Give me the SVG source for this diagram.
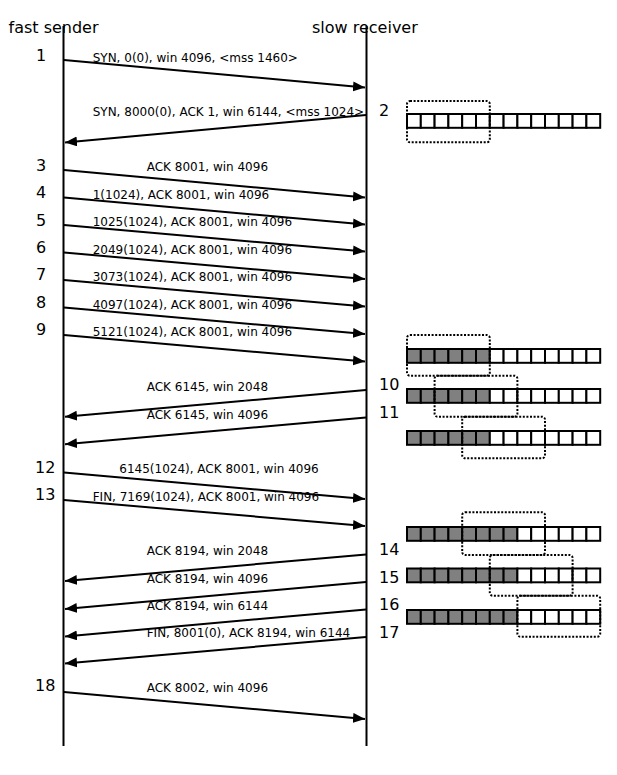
<svg xmlns="http://www.w3.org/2000/svg" width="617" height="775" viewBox="0 0 617 775">
<defs>
<style>
text{font-family:"DejaVu Sans","Liberation Sans",sans-serif;fill:#000}
.hdr{font-size:16px}
.num{font-size:16px}
.lbl{font-size:12px}
.life{stroke:#000;stroke-width:2;fill:none}
.msg{stroke:#000;stroke-width:2;fill:none;marker-end:url(#ah)}
.cell{stroke:#000;stroke-width:2;fill:#fff}
.full{stroke:#000;stroke-width:2;fill:#808080}
.win{stroke:#000;stroke-width:2;fill:none;stroke-dasharray:2 1.6}
</style>
<marker id="ah" markerUnits="userSpaceOnUse" markerWidth="13" markerHeight="11" refX="12" refY="5" orient="auto">
<path d="M0,0 L12,5 L0,10 z" fill="#000"/>
</marker>
<g id="c6">
<rect class="full" x="0" y="0" width="13.8" height="13.8"/>
<rect class="full" x="13.8" y="0" width="13.8" height="13.8"/>
<rect class="full" x="27.6" y="0" width="13.8" height="13.8"/>
<rect class="full" x="41.4" y="0" width="13.8" height="13.8"/>
<rect class="full" x="55.2" y="0" width="13.8" height="13.8"/>
<rect class="full" x="69" y="0" width="13.8" height="13.8"/>
</g>
<g id="e6">
<rect class="cell" x="0" y="0" width="13.8" height="13.8"/>
<rect class="cell" x="13.8" y="0" width="13.8" height="13.8"/>
<rect class="cell" x="27.6" y="0" width="13.8" height="13.8"/>
<rect class="cell" x="41.4" y="0" width="13.8" height="13.8"/>
<rect class="cell" x="55.2" y="0" width="13.8" height="13.8"/>
<rect class="cell" x="69" y="0" width="13.8" height="13.8"/>
</g>
<g id="e2">
<rect class="cell" x="0" y="0" width="13.8" height="13.8"/>
<rect class="cell" x="13.8" y="0" width="13.8" height="13.8"/>
</g>
<g id="c2">
<rect class="full" x="0" y="0" width="13.8" height="13.8"/>
<rect class="full" x="13.8" y="0" width="13.8" height="13.8"/>
</g>
</defs>
<rect width="617" height="775" fill="#fff"/>

<g id="sender">
<text class="hdr" x="8.5" y="33">fast sender</text>
<line class="life" x1="63.5" y1="26" x2="63.5" y2="746"/>
</g>
<g id="receiver">
<text class="hdr" x="312" y="33">slow receiver</text>
<line class="life" x1="366.5" y1="26" x2="366.5" y2="746"/>
</g>

<g id="step-numbers">
<text class="num" x="36" y="61">1</text>
<text class="num" x="379" y="116">2</text>
<text class="num" x="36" y="171">3</text>
<text class="num" x="36" y="198">4</text>
<text class="num" x="36" y="225.5">5</text>
<text class="num" x="36" y="253">6</text>
<text class="num" x="36" y="280">7</text>
<text class="num" x="36" y="307.5">8</text>
<text class="num" x="36" y="335">9</text>
<text class="num" x="379" y="389.5">10</text>
<text class="num" x="379" y="417.5">11</text>
<text class="num" x="35" y="472.5">12</text>
<text class="num" x="35" y="500">13</text>
<text class="num" x="379" y="555">14</text>
<text class="num" x="379" y="582.5">15</text>
<text class="num" x="379" y="610">16</text>
<text class="num" x="379" y="637.5">17</text>
<text class="num" x="35" y="691">18</text>
</g>

<g id="connectors">
<line class="msg" x1="64" y1="60" x2="365" y2="87.5"/>
<line class="msg" x1="366" y1="115" x2="65" y2="142.5"/>
<line class="msg" x1="64" y1="170" x2="365" y2="197.5"/>
<line class="msg" x1="64" y1="197.5" x2="365" y2="224.5"/>
<line class="msg" x1="64" y1="225" x2="365" y2="251.5"/>
<line class="msg" x1="64" y1="252.5" x2="365" y2="279"/>
<line class="msg" x1="64" y1="280" x2="365" y2="306.5"/>
<line class="msg" x1="64" y1="307.5" x2="365" y2="334"/>
<line class="msg" x1="64" y1="335" x2="365" y2="361.5"/>
<line class="msg" x1="366" y1="390" x2="65" y2="416.7"/>
<line class="msg" x1="366" y1="417.5" x2="65" y2="444.3"/>
<line class="msg" x1="64" y1="472.5" x2="365" y2="499"/>
<line class="msg" x1="64" y1="500" x2="365" y2="526"/>
<line class="msg" x1="366" y1="554.5" x2="65" y2="581"/>
<line class="msg" x1="366" y1="582" x2="65" y2="609"/>
<line class="msg" x1="366" y1="609.5" x2="65" y2="636.5"/>
<line class="msg" x1="366" y1="637" x2="65" y2="663.5"/>
<line class="msg" x1="64" y1="692" x2="365" y2="719"/>
</g>

<g id="labels">
<text class="lbl" x="92.7" y="61.5">SYN, 0(0), win 4096, &lt;mss 1460&gt;</text>
<text class="lbl" x="92.7" y="116">SYN, 8000(0), ACK 1, win 6144, &lt;mss 1024&gt;</text>
<text class="lbl" x="146.7" y="171">ACK 8001, win 4096</text>
<text class="lbl" x="92.7" y="198.5">1(1024), ACK 8001, win 4096</text>
<text class="lbl" x="92.7" y="226">1025(1024), ACK 8001, win 4096</text>
<text class="lbl" x="92.7" y="253.5">2049(1024), ACK 8001, win 4096</text>
<text class="lbl" x="92.7" y="281">3073(1024), ACK 8001, win 4096</text>
<text class="lbl" x="92.7" y="308.5">4097(1024), ACK 8001, win 4096</text>
<text class="lbl" x="92.7" y="336">5121(1024), ACK 8001, win 4096</text>
<text class="lbl" x="146.7" y="391">ACK 6145, win 2048</text>
<text class="lbl" x="146.7" y="418.5">ACK 6145, win 4096</text>
<text class="lbl" x="119.3" y="472.5">6145(1024), ACK 8001, win 4096</text>
<text class="lbl" x="92.7" y="500.5">FIN, 7169(1024), ACK 8001, win 4096</text>
<text class="lbl" x="146.7" y="555">ACK 8194, win 2048</text>
<text class="lbl" x="146.7" y="582.5">ACK 8194, win 4096</text>
<text class="lbl" x="146.7" y="610">ACK 8194, win 6144</text>
<text class="lbl" x="146.7" y="637">FIN, 8001(0), ACK 8194, win 6144</text>
<text class="lbl" x="146.7" y="692">ACK 8002, win 4096</text>
</g>

<g id="window-2">
<use href="#e6" x="407" y="114"/>
<use href="#e6" x="489.8" y="114"/>
<use href="#e2" x="572.6" y="114"/>
<rect class="win" x="407" y="101" width="82.8" height="41.3" rx="3"/>
</g>
<g id="window-9">
<use href="#c6" x="407" y="349"/>
<use href="#e6" x="489.8" y="349"/>
<use href="#e2" x="572.6" y="349"/>
<rect class="win" x="407" y="335" width="82.8" height="40.7" rx="3"/>
</g>
<g id="window-10">
<use href="#c6" x="407" y="389"/>
<use href="#e6" x="489.8" y="389"/>
<use href="#e2" x="572.6" y="389"/>
<rect class="win" x="434.6" y="375.7" width="82.8" height="41" rx="3"/>
</g>
<g id="window-11">
<use href="#c6" x="407" y="431"/>
<use href="#e6" x="489.8" y="431"/>
<use href="#e2" x="572.6" y="431"/>
<rect class="win" x="462.2" y="416.7" width="82.8" height="41.6" rx="3"/>
</g>
<g id="window-14">
<use href="#c6" x="407" y="527"/>
<use href="#c2" x="489.8" y="527"/>
<use href="#e6" x="517.4" y="527"/>
<rect class="win" x="462.2" y="512.3" width="82.8" height="42.7" rx="3"/>
</g>
<g id="window-15">
<use href="#c6" x="407" y="568.5"/>
<use href="#c2" x="489.8" y="568.5"/>
<use href="#e6" x="517.4" y="568.5"/>
<rect class="win" x="489.8" y="555" width="82.8" height="40.7" rx="3"/>
</g>
<g id="window-16">
<use href="#c6" x="407" y="610"/>
<use href="#c2" x="489.8" y="610"/>
<use href="#e6" x="517.4" y="610"/>
<rect class="win" x="517.4" y="595.7" width="82.8" height="41" rx="3"/>
</g>
</svg>
